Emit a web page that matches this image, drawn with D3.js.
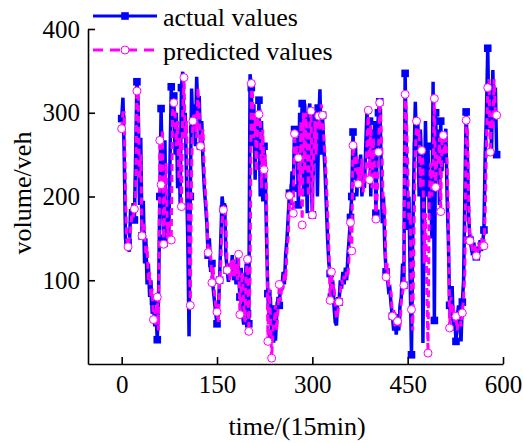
<!DOCTYPE html>
<html lang="en">
<head>
    <meta charset="UTF-8">
    <script src="https://d3js.org/d3.v7.min.js"></script>
    <style>
        body {
            margin: 0;
            background: white;
        }
        svg text {
            font-family: "Liberation Serif", "Times New Roman", serif;
            fill: black;
        }
    </style>
</head>
<body>
    <div id="chart"></div>
    <script>
        // one value every 2 time steps, starting at t = 0
        const step = 2;

        const actual = [
            293, 318, 250, 150, 140, 145, 134, 185, 170, 192, 172, 250, 337, 310, 190, 270, 153, 195, 120, 150,
            95, 120, 80, 100, 60, 75, 45, 60, 29, 80, 200, 305, 230, 150, 267, 140, 180, 150, 240, 331,
            290, 320, 250, 300, 210, 280, 190, 330, 349, 280, 300, 220, 150, 33, 200, 329, 280, 310, 260, 343,
            300, 320, 260, 290, 240, 210, 190, 168, 130, 150, 110, 120, 90, 75, 60, 48, 62, 100, 150, 200,
            185, 192, 130, 112, 98, 120, 110, 130, 100, 120, 95, 130, 110, 80, 115, 60, 47, 100, 120, 60,
            48, 346, 330, 260, 310, 220, 300, 250, 315, 200, 290, 194, 260, 230, 150, 84, 50, 80, 30, 44,
            70, 28, 60, 80, 70, 95, 88, 110, 95, 130, 148, 175, 204, 190, 230, 210, 280, 240, 270, 190,
            300, 260, 311, 200, 311, 250, 180, 300, 311, 230, 178, 300, 240, 310, 200, 290, 328, 250, 297, 260,
            230, 190, 150, 120, 108, 80, 100, 70, 50, 46, 80, 74, 100, 90, 110, 95, 115, 100, 130, 150,
            175, 200, 277, 220, 260, 200, 240, 215, 250, 200, 230, 210, 260, 303, 250, 290, 200, 280, 220, 290,
            180, 260, 300, 313, 250, 168, 200, 140, 110, 104, 88, 90, 70, 57, 40, 60, 35, 55, 40, 70,
            80, 120, 94, 347, 250, 160, 200, 100, 11, 150, 240, 313, 260, 290, 200, 280, 240, 25, 180, 290,
            200, 260, 180, 230, 150, 337, 52, 300, 220, 280, 190, 290, 230, 272, 240, 281, 200, 150, 70, 52,
            93, 40, 60, 27, 55, 70, 45, 27, 74, 100, 200, 301, 250, 176, 148, 140, 130, 145, 135, 128,
            140, 132, 148, 135, 145, 160, 250, 300, 377, 280, 330, 253, 351, 290, 330, 250
        ];

        const predicted = [
            281, 300, 300, 200, 150, 140, 150, 160, 180, 175, 185, 200, 326, 320, 220, 250, 153, 170, 160, 130,
            140, 100, 110, 80, 90, 53, 65, 45, 80, 40, 267, 214, 280, 143, 200, 240, 150, 170, 160, 148,
            300, 312, 300, 260, 290, 220, 270, 188, 300, 342, 270, 290, 210, 140, 70, 230, 290, 300, 290, 270,
            330, 300, 260, 270, 280, 230, 200, 180, 133, 140, 130, 97, 115, 85, 70, 62, 50, 100, 120, 170,
            184, 190, 170, 112, 115, 100, 125, 105, 125, 105, 120, 100, 131, 59, 90, 110, 70, 50, 110, 125,
            39, 100, 335, 320, 270, 300, 230, 290, 298, 300, 210, 280, 232, 250, 200, 27, 90, 60, 7, 40,
            50, 70, 40, 65, 95, 75, 95, 90, 110, 100, 135, 150, 201, 205, 190, 180, 275, 250, 260, 246,
            200, 290, 166, 300, 230, 300, 260, 200, 290, 302, 178, 250, 290, 250, 300, 296, 280, 310, 297, 270,
            250, 220, 180, 140, 76, 110, 90, 95, 70, 55, 60, 74, 85, 100, 95, 105, 100, 110, 105, 130,
            169, 135, 261, 250, 230, 250, 215, 235, 220, 245, 205, 225, 220, 265, 303, 220, 285, 210, 270, 230,
            173, 200, 253, 312, 290, 240, 180, 190, 104, 120, 95, 90, 85, 57, 65, 45, 55, 51, 50, 45,
            75, 85, 94, 322, 300, 240, 170, 180, 65, 40, 160, 250, 290, 270, 280, 210, 255, 240, 120, 180,
            100, 13, 200, 240, 200, 230, 317, 211, 250, 240, 270, 182, 272, 273, 250, 270, 240, 180, 43, 80,
            60, 70, 50, 57, 40, 60, 65, 45, 61, 80, 110, 291, 280, 200, 147, 150, 135, 140, 140, 129,
            135, 145, 135, 150, 140, 141, 180, 260, 330, 340, 253, 300, 280, 340, 300, 297
        ];

        // times where the plot shows its markers
        const markerTimes = [
            0, 10, 20, 24, 32, 50, 56, 60, 62, 66, 78, 82, 94, 98, 108, 112, 124, 136, 142, 150,
            154, 160, 166, 184, 186, 198, 200, 204, 216, 224, 230, 236, 248, 264, 270, 272, 278, 284, 298, 300,
            310, 316, 328, 330, 342, 360, 362, 364, 372, 388, 390, 400, 404, 406, 416, 426, 434, 444, 446, 456,
            464, 472, 482, 492, 494, 502, 506, 516, 526, 536, 542, 548, 558, 570, 576, 580, 590
        ];

        const xTicks = [0, 150, 300, 450, 600];
        const yTicks = [100, 200, 300, 400];

        const width = 523, height = 443;

        const svg = d3.select("#chart").append("svg")
            .attr("width", width)
            .attr("height", height);

        const x = d3.scaleLinear().domain([-53, 600]).range([88, 503]);
        const y = d3.scaleLinear().domain([0, 400]).range([364, 29]);

        const toPoints = arr => arr.map((v, i) => ({ t: i * step, v }));
        const actualPts = toPoints(actual);
        const predictedPts = toPoints(predicted);

        const line = d3.line()
            .x(d => x(d.t))
            .y(d => y(d.v));

        const marked = pts => pts.filter(d => markerTimes.includes(d.t));

        // actual: solid blue with squares
        svg.append("path")
            .datum(actualPts)
            .attr("fill", "none")
            .attr("stroke", "#0000ff")
            .attr("stroke-width", 3.5)
            .attr("d", line);

        svg.selectAll(".sq")
            .data(marked(actualPts))
            .enter().append("rect")
            .attr("class", "sq")
            .attr("x", d => x(d.t) - 3.8)
            .attr("y", d => y(d.v) - 3.8)
            .attr("width", 7.6)
            .attr("height", 7.6)
            .attr("fill", "#0000ff");

        // predicted: dashed magenta with open circles
        svg.append("path")
            .datum(predictedPts)
            .attr("fill", "none")
            .attr("stroke", "#ff00ff")
            .attr("stroke-width", 3)
            .attr("stroke-dasharray", "7,4")
            .attr("d", line);

        svg.selectAll(".ci")
            .data(marked(predictedPts))
            .enter().append("circle")
            .attr("class", "ci")
            .attr("cx", d => x(d.t))
            .attr("cy", d => y(d.v))
            .attr("r", 4)
            .attr("fill", "white")
            .attr("stroke", "#ff00ff")
            .attr("stroke-width", 1);

        // axes, ticks pointing inward
        const gx = svg.append("g")
            .attr("transform", "translate(0,364)")
            .call(d3.axisBottom(x).tickValues(xTicks).tickSizeInner(-7).tickSizeOuter(0).tickPadding(11));

        const gy = svg.append("g")
            .attr("transform", "translate(88,0)")
            .call(d3.axisLeft(y).tickValues(yTicks).tickSizeInner(-7).tickSizeOuter(0).tickPadding(8));

        [gx, gy].forEach(g => {
            g.attr("font-family", null).attr("font-size", null);
            g.select(".domain").attr("stroke", "black").attr("stroke-width", 1.6);
            g.selectAll(".tick line").attr("stroke", "black").attr("stroke-width", 1.6);
            g.selectAll(".tick text")
                .attr("fill", "black")
                .style("font-family", "'Liberation Serif', serif")
                .style("font-size", "25px");
        });

        svg.append("text")
            .attr("x", 297)
            .attr("y", 435)
            .attr("text-anchor", "middle")
            .style("font-size", "26px")
            .text("time/(15min)");

        svg.append("text")
            .attr("transform", "rotate(-90)")
            .attr("x", -193)
            .attr("y", 31)
            .attr("text-anchor", "middle")
            .style("font-size", "26px")
            .text("volume/veh");

        // legend
        const legend = svg.append("g");

        legend.append("line")
            .attr("x1", 93).attr("x2", 157)
            .attr("y1", 16).attr("y2", 16)
            .attr("stroke", "#0000ff")
            .attr("stroke-width", 3);
        legend.append("rect")
            .attr("x", 125 - 3.8).attr("y", 16 - 3.8)
            .attr("width", 7.6).attr("height", 7.6)
            .attr("fill", "#0000ff");
        legend.append("text")
            .attr("x", 163).attr("y", 26)
            .style("font-size", "26px")
            .text("actual values");

        legend.append("line")
            .attr("x1", 93).attr("x2", 157)
            .attr("y1", 50).attr("y2", 50)
            .attr("stroke", "#ff00ff")
            .attr("stroke-width", 3)
            .attr("stroke-dasharray", "10,7");
        legend.append("circle")
            .attr("cx", 125).attr("cy", 50)
            .attr("r", 4)
            .attr("fill", "white")
            .attr("stroke", "#ff00ff")
            .attr("stroke-width", 1);
        legend.append("text")
            .attr("x", 163).attr("y", 60)
            .style("font-size", "26px")
            .text("predicted values");
    </script>
</body>
</html>
